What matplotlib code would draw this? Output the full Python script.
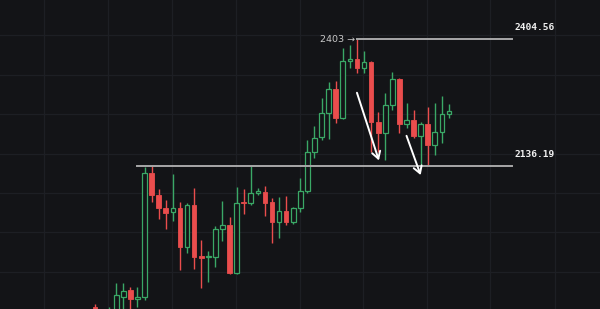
import matplotlib
matplotlib.use("Agg")
import matplotlib.pyplot as plt
from matplotlib.patches import Rectangle


# candle data (one candle per bar slot)
opens = [
    1838.3, 1810.8, 1815.0, 1827.7, 1859.4, 1874.2, 1855.2, 1859.4, 2121.4, 2075.0,
    2047.5, 2039.0, 2047.5, 1965.0, 2053.8, 1946.0, 1943.9, 1943.9, 2003.1, 2011.5,
    1910.1, 2060.1, 2058.0, 2079.2, 2081.3, 2060.1, 2017.9, 2041.1, 2017.9, 2047.5,
    2083.4, 2165.8, 2197.5, 2248.2, 2298.9, 2237.6, 2358.1, 2362.3, 2343.3, 2356.0,
    2229.2, 2205.9, 2265.1, 2320.1, 2224.9, 2233.4, 2199.6, 2224.9, 2180.6, 2208.0,
    2246.1,
]
highs = [
    1844.6, 1827.7, 1838.3, 1889.0, 1889.0, 1880.5, 1880.5, 2134.1, 2136.2, 2087.6,
    2064.4, 2119.3, 2060.1, 2058.0, 2089.7, 1979.8, 1956.6, 2009.4, 2062.2, 2028.4,
    2091.8, 2087.6, 2136.2, 2089.7, 2093.9, 2068.6, 2070.7, 2072.8, 2049.6, 2110.8,
    2191.1, 2220.7, 2279.9, 2313.7, 2315.8, 2385.5, 2391.9, 2404.6, 2379.2, 2358.0,
    2250.3, 2290.4, 2334.8, 2322.2, 2269.3, 2254.6, 2229.2, 2260.9, 2269.3, 2284.1,
    2267.2,
]
lows = [
    1810.8, 1806.6, 1806.6, 1821.3, 1827.7, 1827.7, 1838.3, 1853.1, 2060.1, 2024.2,
    2003.1, 2020.0, 1916.4, 1952.4, 1918.6, 1878.4, 1891.1, 1922.8, 1977.7, 1908.0,
    1908.0, 2034.8, 2053.8, 2075.0, 2030.6, 1973.5, 1984.0, 2011.5, 2013.6, 2039.0,
    2079.2, 2153.1, 2191.1, 2193.2, 2227.1, 2235.5, 2343.3, 2332.7, 2332.7, 2165.8,
    2165.8, 2148.9, 2254.6, 2205.9, 2216.5, 2195.4, 2134.1, 2138.3, 2159.3, 2184.8,
    2237.6,
]
closes = [
    1821.3, 1823.5, 1829.8, 1863.6, 1872.1, 1855.2, 1859.4, 2121.4, 2075.0, 2047.5,
    2036.9, 2047.5, 1965.0, 2053.8, 1943.9, 1941.8, 1946.0, 2003.1, 2011.5, 1910.1,
    2058.0, 2058.0, 2079.2, 2083.4, 2058.0, 2017.9, 2041.1, 2017.9, 2047.5, 2083.4,
    2165.8, 2195.4, 2248.2, 2298.9, 2237.6, 2358.1, 2362.3, 2343.3, 2356.0, 2229.2,
    2205.9, 2265.1, 2320.1, 2224.9, 2233.4, 2199.6, 2224.9, 2180.6, 2208.0, 2246.1,
    2252.4,
]

# horizontal levels drawn on the chart
level_high = 2404.56
level_low = 2136.19
high_note = "2403"

BG = "#131417"
GRID = "#1d1f24"
UP = "#3aa866"
DOWN = "#ea4d4d"
LEVEL = "#a8a8a8"

fig = plt.figure(figsize=(6, 3.09), dpi=100, facecolor=BG)
ax = fig.add_axes([0, 0, 1, 1], facecolor=BG)

# grid
for gx in [-7.2, 1.84, 10.88, 19.92, 28.9, 37.9, 46.9, 55.8, 65.0]:
    ax.axvline(gx, color=GRID, lw=0.9, zorder=0)
for gy in [2413.0, 2328.5, 2246.1, 2161.6, 2079.2, 1996.8, 1912.3]:
    ax.axhline(gy, color=GRID, lw=0.9, zorder=0)

width = 0.66
for i, (o, h, l, c) in enumerate(zip(opens, highs, lows, closes)):
    up = c >= o
    col = UP if up else DOWN
    lo_body, hi_body = min(o, c), max(o, c)
    ax.plot([i, i], [hi_body, h], color=col, lw=1.0, zorder=2, solid_capstyle="butt")
    ax.plot([i, i], [l, lo_body], color=col, lw=1.0, zorder=2, solid_capstyle="butt")
    body_h = max(hi_body - lo_body, 1.2)
    if up:
        ax.add_patch(Rectangle((i - width / 2, lo_body), width, body_h,
                               facecolor=BG, edgecolor=col, lw=0.9, zorder=3))
    else:
        ax.add_patch(Rectangle((i - width / 2, lo_body), width, body_h,
                               facecolor=col, edgecolor=col, lw=0.6, zorder=3))

# level lines
ax.plot([37.0, 58.9], [level_high, level_high], color=LEVEL, lw=1.4, zorder=4)
ax.plot([5.9, 58.9], [level_low, level_low], color=LEVEL, lw=1.4, zorder=4)

ax.text(36.8, level_high, high_note + " \u2192", color="#c8c8c8", fontsize=6.8,
        ha="right", va="center", zorder=5)
ax.text(59.2, level_high + 25, f"{level_high:.2f}", color="#f0f0f0", fontsize=6.8,
        fontweight="bold", family="DejaVu Sans Mono", ha="left", va="center", zorder=5)
ax.text(59.2, level_low + 25, f"{level_low:.2f}", color="#f0f0f0", fontsize=6.8,
        fontweight="bold", family="DejaVu Sans Mono", ha="left", va="center", zorder=5)

# the two white down arrows
arrow_style = dict(arrowstyle="->,head_length=0.5,head_width=0.3", color="white",
                   lw=1.4, shrinkA=0, shrinkB=0)
ax.annotate("", xy=(40.1, 2148.0), xytext=(37.0, 2291.0), arrowprops=arrow_style, zorder=6)
ax.annotate("", xy=(46.0, 2117.0), xytext=(44.0, 2200.0), arrowprops=arrow_style, zorder=6)

ax.set_xlim(-13.42, 71.33)
ax.set_ylim(1834.0, 2487.0)
ax.set_axis_off()

fig.savefig("out.png", dpi=100, facecolor=BG)
